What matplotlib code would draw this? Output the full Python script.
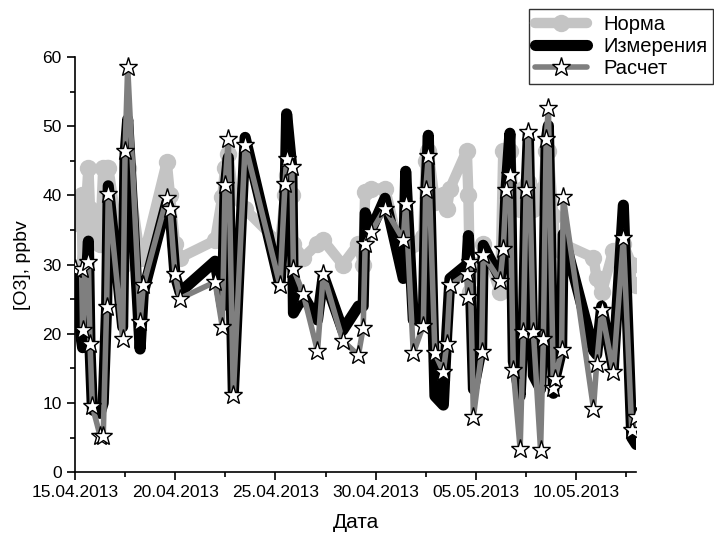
import datetime as dt
import matplotlib
matplotlib.use("Agg")
import matplotlib.pyplot as plt
from matplotlib.ticker import MultipleLocator, FuncFormatter

plt.rcParams['font.family'] = ['Liberation Sans', 'DejaVu Sans']

start = dt.date(2013, 4, 15)

# days since 15.04.2013
t_days = [0.0, 0.33, 0.38, 0.67, 0.75, 0.87, 1.25, 1.41, 1.58, 1.66,
          2.38, 2.50, 2.63, 3.25, 3.41, 4.58, 4.74, 4.99, 5.24, 6.99,
          7.35, 7.49, 7.65, 7.90, 8.49, 10.23, 10.48, 10.56, 10.82, 10.90,
          11.39, 12.10, 12.39, 13.36, 14.14, 14.38, 14.48, 14.77, 15.47, 16.38,
          16.50, 16.88, 17.38, 17.50, 17.63, 17.96, 18.38, 18.55, 18.71, 19.55,
          19.63, 19.71, 19.88, 20.29, 20.37, 21.21, 21.37, 21.51, 21.70, 21.87,
          22.21, 22.37, 22.51, 22.62, 22.87, 23.23, 23.37, 23.51, 23.62, 23.87,
          23.95, 24.28, 24.36, 25.87, 26.03, 26.28, 26.86, 27.36, 27.78, 28.0]

norma = [36, 40, 30, 44, 38, 35, 33, 44, 44, 44,
         30, 32, 44, 31, 31, 44.8, 40, 33, 31, 33.5,
         39.8, 44, 46, 40, 38, 33, 40, 43, 40, 33,
         31, 33, 33.5, 30, 33, 30, 40.5, 41, 41, 30,
         30, 33, 34, 45, 46.5, 39, 40, 38, 41, 46.5,
         40, 26, 30, 30, 33, 26, 46.5, 41, 46.5, 40,
         38, 41, 40, 42, 38, 40, 41, 46.5, 46.5, 37,
         33, 32, 33, 31, 28, 26, 32, 33, 30, 27]

izmer = [29, 19, 18, 33.4, 18, 9, 8.5, 10, 24, 41.4,
         21, 46, 51, 17.8, 26, 39, 38, 28.5, 26, 30.5,
         24, 41, 45.5, 11.3, 48.4, 27, 40, 51.8, 44, 23,
         25.5, 22, 28.5, 20.5, 24, 24, 37.5, 35, 39.6, 28,
         43.5, 22, 22, 40, 48.7, 11, 9.7, 20, 28, 30,
         34.2, 29, 12, 18, 32.8, 28, 31, 41, 49, 16,
         11, 20.5, 41, 49, 14, 12, 19.5, 48, 50.1, 11.4,
         13.5, 17.6, 34.4, 17.6, 17, 24, 15, 38.6, 5, 4]

raschet = [29.4, 29.4, 20.6, 30.4, 18.6, 9.5, 5.3, 5.3, 23.9, 40.2,
           19.3, 46.4, 58.6, 21.7, 27.0, 39.6, 38.1, 28.7, 25.1, 27.5,
           21.0, 41.5, 48.2, 11.1, 47.3, 27.0, 41.7, 45.3, 44.1, 29.4,
           25.8, 17.5, 28.7, 19.0, 16.9, 20.9, 33.0, 34.7, 38.1, 33.6,
           38.8, 17.2, 21.2, 40.8, 45.7, 17.2, 14.5, 18.6, 27.0, 28.7,
           25.3, 30.4, 8.0, 17.4, 31.4, 27.7, 32.3, 40.8, 42.9, 14.7,
           3.4, 20.3, 40.8, 49.2, 20.3, 3.2, 19.3, 48.2, 52.6, 12.1,
           13.5, 17.6, 39.8, 9.2, 15.7, 23.4, 14.5, 33.8, 6.1, 8.0]

fig = plt.figure(figsize=(7.14, 5.39), dpi=100)
ax = fig.add_axes([0.105, 0.124, 0.786, 0.770])

ax.plot(t_days, norma, color='#c4c4c4', lw=7.5, marker='o', ms=11.5,
        solid_capstyle='round', solid_joinstyle='round', label='Норма', zorder=1)
ax.plot(t_days, izmer, color='black', lw=8, solid_capstyle='round',
        solid_joinstyle='round', label='Измерения', zorder=2)
ax.plot(t_days, raschet, color='#7f7f7f', lw=4, marker='*', ms=14,
        mfc='white', mec='black', mew=1.0, solid_capstyle='round',
        solid_joinstyle='round', label='Расчет', zorder=3)

ax.set_xlim(0, 28)
ax.set_ylim(0, 60)
ax.xaxis.set_major_locator(MultipleLocator(5))
ax.xaxis.set_minor_locator(MultipleLocator(2.5))
ax.yaxis.set_major_locator(MultipleLocator(10))
ax.yaxis.set_minor_locator(MultipleLocator(5))
ax.xaxis.set_major_formatter(FuncFormatter(
    lambda v, p: (start + dt.timedelta(days=v)).strftime('%d.%m.%Y')))

for s in ['top', 'right']:
    ax.spines[s].set_visible(False)
for s in ['left', 'bottom']:
    ax.spines[s].set_linewidth(1.2)
ax.tick_params(which='major', direction='out', length=6, width=1.2, labelsize=12.5)
ax.tick_params(which='minor', direction='out', length=3.5, width=1.2)

ax.set_xlabel('Дата', fontsize=15, labelpad=9)
ax.set_ylabel('[O3], ppbv', fontsize=14, labelpad=8)

leg = fig.legend(loc='upper right', bbox_to_anchor=(0.999, 0.983),
                 bbox_transform=fig.transFigure, fontsize=14.5, frameon=True,
                 fancybox=False, edgecolor='black', borderaxespad=0,
                 handlelength=2.6, labelspacing=0.15, borderpad=0.3)
leg.get_frame().set_linewidth(1.0)

fig.savefig('out.png', dpi=100)
